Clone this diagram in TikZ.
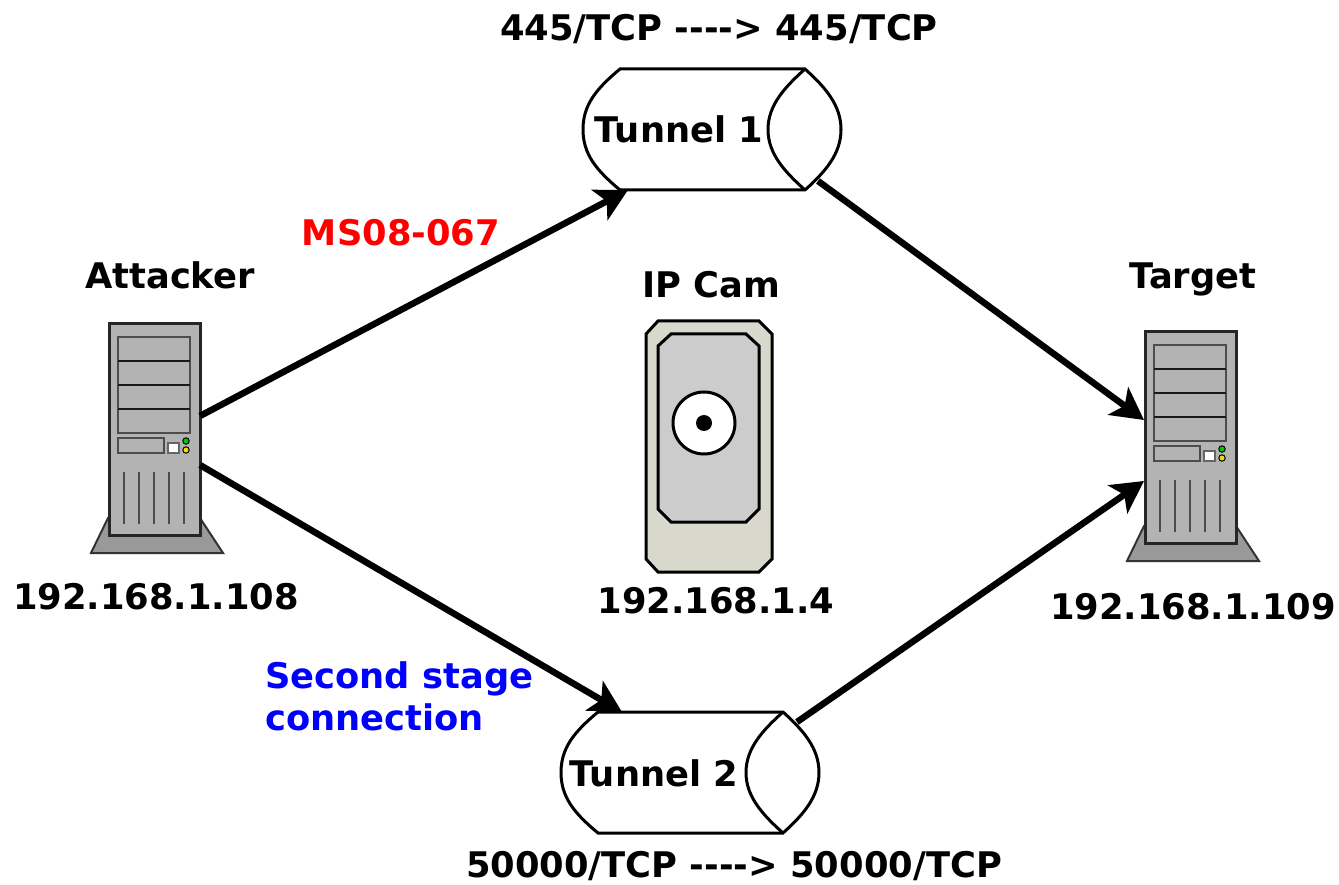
\documentclass[tikz,border=0pt]{standalone}
\usepackage{fontspec}
\setmainfont{DejaVu Sans}
\usetikzlibrary{arrows.meta}
\definecolor{boxgray}{HTML}{B3B3B3}
\definecolor{basegray}{HTML}{999999}
\definecolor{camshell}{HTML}{D8D8CC}
\definecolor{camface}{HTML}{CCCCCC}
\tikzset{
  lbl/.style={font=\fontsize{35.3}{42}\selectfont\bfseries,inner sep=0pt},
  link/.style={line width=6.5pt,-{Stealth[length=32pt,width=34pt,inset=8pt]}},
  pics/server/.style={code={
    \draw[line width=2pt,fill=basegray,draw=black!80] (-1,194) -- (-18,229) -- (114,229) -- (91,194) -- cycle;
    \draw[line width=3pt,fill=boxgray,draw=black!85] (0,0) rectangle (91,211);
    \draw[line width=2.5pt,draw=black!70] (9,13) rectangle (81,109);
    \foreach \y in {37,61,85} \draw[line width=2pt,draw=black!90] (9,\y) -- (81,\y);
    \draw[line width=2.5pt,draw=black!70] (9,114) rectangle (55,129);
    \draw[line width=2pt,draw=black!60,fill=white] (59,119) rectangle (70,129);
    \draw[line width=1pt,fill=green!80!black] (77,117) circle (3.2);
    \draw[line width=1pt,fill=yellow!90!black] (77,126) circle (3.2);
    \foreach \x in {15,30,45,60,75} \draw[line width=2.5pt,draw=black!70] (\x,148) -- (\x,200);
    \coordinate (-upper) at (91,92);
    \coordinate (-lower) at (91,141);
    \coordinate (-inup) at (-1,88);
    \coordinate (-indown) at (-1,149);
  }},
  pics/tunnel/.style={code={
    \draw[line width=3pt,fill=white] (0,0) -- (185,0) .. controls (205,18) and (221,36) .. (221,60.5) .. controls (221,85) and (205,103) .. (185,121) -- (0,121) .. controls (-24,101) and (-37,85) .. (-37,60.5) .. controls (-37,36) and (-24,20) .. (0,0) -- cycle;
    \draw[line width=3pt] (185,0) .. controls (165,18) and (148,36) .. (148,60.5) .. controls (148,85) and (165,103) .. (185,121);
    \coordinate (-in) at (8,121);
    \coordinate (-intop) at (24,0);
    \coordinate (-out) at (198,112);
    \coordinate (-outtop) at (199,10);
  }}
}
\begin{document}
\begin{tikzpicture}[x=1pt,y=-1pt]
\useasboundingbox (0,0) rectangle (1339,885);
% machines
\pic (attacker) at (109,324) {server};
\pic (target) at (1145,332) {server};
% camera
\draw[line width=3pt,fill=camshell] (658,321) -- (759,321) -- (772,334) -- (772,559) -- (759,572) -- (658,572) -- (646,559) -- (646,334) -- cycle;
\draw[line width=3pt,fill=camface] (671,334) -- (746,334) -- (759,346) -- (759,509) -- (746,522) -- (671,522) -- (658,509) -- (658,346) -- cycle;
\draw[line width=3pt,fill=white] (704,423) circle (31);
\fill (704,423) circle (8);
% tunnels
\pic (tunnelA) at (620,69) {tunnel};
\pic (tunnelB) at (598,712) {tunnel};
% links
\draw[link] (attacker-upper) -- (tunnelA-in);
\draw[link] (attacker-lower) -- (tunnelB-intop);
\draw[link] (tunnelA-out) -- (target-inup);
\draw[link] (tunnelB-outtop) -- (target-indown);
% labels
\node[lbl] (portsA) at (719,29) {445/TCP -{}-{}-{}-> 445/TCP};
\node[lbl] (portsB) at (734,866) {50000/TCP -{}-{}-{}-> 50000/TCP};
\node[lbl] (nameA) at (679,129) {Tunnel 1};
\node[lbl] (nameB) at (654,773) {Tunnel 2};
\node[lbl,red] (exploit) at (401,233) {MS08-067};
\node[lbl,blue,align=left,anchor=west] (stage) at (265,696) {Second stage\\connection};
\node[lbl] (attackerName) at (170,275) {Attacker};
\node[lbl] (camName) at (711,285) {IP Cam};
\node[lbl] (targetName) at (1193,279) {Target};
\node[lbl] (attackerIp) at (156,597) {192.168.1.108};
\node[lbl] (camIp) at (716,601) {192.168.1.4};
\node[lbl] (targetIp) at (1193,607) {192.168.1.109};
\end{tikzpicture}
\end{document}
